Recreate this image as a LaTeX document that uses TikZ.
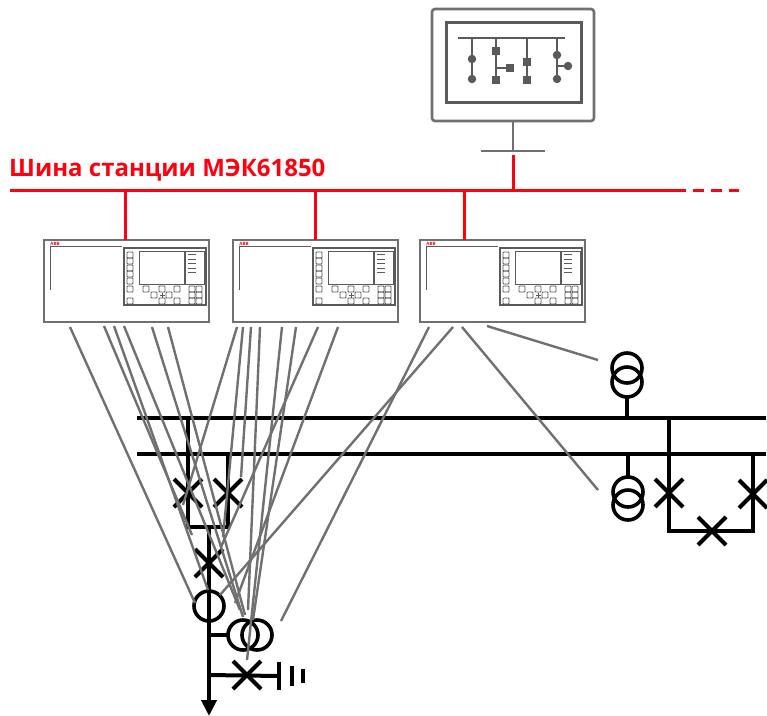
\documentclass[tikz,border=0pt]{standalone}
\usepackage{fontspec}
\newfontfamily\titlefont{Open Sans}
\usepackage{xcolor}
\usetikzlibrary{positioning,calc,shapes.misc,arrows.meta}
\definecolor{busred}{HTML}{FF000F}
\definecolor{wiregray}{HTML}{707070}
\definecolor{facegray}{HTML}{5A5A5A}

\begin{document}
\begin{tikzpicture}[x=1pt, y=-1pt, >=stealth]
        % Style definitions
        \tikzset{
            ied/.style={draw=wiregray, fill=white, rectangle, minimum width=165pt, minimum height=82pt, line width=2.5pt, outer sep=0pt, inner sep=0pt},
            redbus/.style={draw=busred, line width=3pt},
            wire/.style={draw=wiregray, line width=2.4pt},
            hv/.style={draw=black, line width=4pt},
            breaker/.style={cross out, draw=black, line width=4pt, minimum size=28pt, inner sep=0pt, outer sep=0pt},
            winding/.style={circle, draw=black, line width=3.6pt, minimum size=30pt, inner sep=0pt, outer sep=0pt},
            scada/.style={draw=facegray, line width=2pt},
            dotnode/.style={circle, fill=facegray, minimum size=8.5pt, inner sep=0pt},
            sqnode/.style={rectangle, fill=facegray, minimum size=7.5pt, inner sep=0pt},
            key/.style={draw=facegray, line width=0.8pt, rounded corners=0.8pt}
        }
        \useasboundingbox (0,0) rectangle (767,715);

        % Monitor
        \draw [draw=wiregray, line width=2.6pt, rounded corners=3pt] (432,9) rectangle (594,121);
        \draw [draw=facegray, line width=3pt] (446,22) rectangle (581,102);
        \coordinate (monitor) at (513,121);
        \coordinate (stand) at (513,151);
        \coordinate (standl) at (481,151);
        \coordinate (standr) at (545,151);
        \draw [wire] (monitor) -- (stand);
        \draw [wire] (standl) -- (standr);

        % Mimic on the screen
        \coordinate (mimicl) at (458,38);
        \coordinate (mimicr) at (565,38);
        \draw [scada] (mimicl) -- (mimicr);
        \node [dotnode] (a1) at (472,59) {};
        \node [dotnode] (a2) at (472,79) {};
        \node [sqnode] (b1) at (496,51) {};
        \node [sqnode] (b2) at (496,80) {};
        \node [sqnode] (b3) at (510,68) {};
        \node [sqnode] (c1) at (527,62) {};
        \node [sqnode] (c2) at (527,80) {};
        \node [dotnode] (e1) at (557,55) {};
        \node [dotnode] (e2) at (557,79) {};
        \node [dotnode] (e3) at (568,66) {};
        \foreach \lower in {a2,b2,c2,e2}
            \draw [scada] (\lower |- mimicl) -- (\lower);
        \draw [scada] (b3) -- (b3 -| b2);
        \draw [scada] (e3) -- (e3 -| e2);

        % Station bus
        \node [anchor=base west, inner sep=0pt, text=busred, font=\titlefont\fontsize{24}{26}\selectfont\bfseries] (title) at (9,176.5) {Шина станции МЭК61850};
        \coordinate (busl) at (10,190);
        \coordinate (busr) at (675,190);
        \coordinate (busend) at (739,190);
        \draw [redbus] (busl) -- (busr);
        \draw [redbus, dash pattern=on 10.5pt off 7.5pt] (busr) -- (busend);
        \coordinate (busmon) at (513,155);

        % IEDs
        \node [ied, anchor=north west] (ied1) at (44,240) {};
        \node [ied, right=24pt of ied1] (ied2) {};
        \node [ied, right=22pt of ied2] (ied3) {};
        \draw [redbus] (busmon) -- (busmon |- busl);
        \foreach \dev/\x in {ied1/125,ied2/315,ied3/464}{
            \coordinate (\dev drop) at (\x,190);
            \draw [redbus] (\dev drop) -- (\dev drop |- \dev.north);
        }

        % Front panels
        \foreach \dev in {ied1,ied2,ied3}{
            \begin{scope}[shift={(\dev.north west)}]
                \node [text=busred, inner sep=0pt, font=\titlefont\fontsize{4.5}{5}\selectfont\bfseries] (\dev abb) at (11,3.5) {ABB};
                \draw [draw=facegray, line width=0.9pt] (6,50) |- (78,6.5);
                \draw [draw=facegray, line width=1.1pt] (80,8) rectangle (162,65);
                \draw [draw=facegray, line width=1pt] (95,11) rectangle (140,44);
                \draw [draw=facegray, line width=1pt] (141,11) rectangle (160,44);
                \foreach \y in {14,19,23,28,32}
                    \draw [draw=facegray, line width=0.7pt] (144,\y) -- (152,\y);
                \foreach \x/\y in {86/15,86/21,86/28,86/34,86/41,86/49,86/61,102/49,118/49,133/49,110/55,125/55,118/61,133/61,148/49,155/49,148/55,155/55,148/61,155/61}
                    \draw [key] (\x-3,\y-3) rectangle (\x+3,\y+3);
                \draw [draw=facegray, line width=0.7pt] (115.5,55) -- (120.5,55) (118,52.5) -- (118,57.5);
            \end{scope}
        }

        % Busbars
        \coordinate (bus1l) at (137,418);
        \coordinate (bus1r) at (766,418);
        \coordinate (bus2l) at (137,454);
        \coordinate (bus2r) at (766,454);
        \draw [hv] (bus1l) -- (bus1r);
        \draw [hv] (bus2l) -- (bus2r);

        % Feeder bay
        \node [breaker] (q1) at (188,493) {};
        \node [breaker] (q2) at (228,493) {};
        \node [breaker] (q3) at (209,563) {};
        \node [winding] (ct) at (209,606) {};
        \node [winding] (vt1) at (243,635) {};
        \node [winding] (vt2) at (257,635) {};
        \node [breaker] (q4) at (247,675) {};
        \coordinate (join) at (209,527);
        \coordinate (tip) at (209,716);
        \draw [hv] (q1 |- bus1l) -- (q1 |- join) -- (q2 |- join) -- (q2 |- bus2l);
        \draw [hv, -{Triangle[length=16pt, width=15pt]}] (join) -- (tip);
        \draw [hv] (tip |- vt1) -- (vt1);

        % Earth switch and earth bars
        \coordinate (earth1) at (279,676);
        \draw [hv] (tip |- q4) -- (earth1);
        \foreach \x/\h in {279/14,292/10,303/7}{
            \coordinate (bar\x) at (\x,676);
            \draw [hv] ($(bar\x)+(0,-\h)$) -- ($(bar\x)+(0,\h)$);
        }

        % Transformers on the right
        \node [winding] (t1) at (627,368) {};
        \node [winding] (t2) at (627,382) {};
        \draw [hv] (t2) -- (t2 |- bus1l);
        \node [winding] (t3) at (628,492) {};
        \node [winding] (t4) at (628,505) {};
        \draw [hv] (t3) -- (t3 |- bus2l);

        % Bus coupler
        \node [breaker] (q5) at (669,493) {};
        \node [breaker] (q6) at (753,494) {};
        \node [breaker] (q7) at (712,531) {};
        \draw [hv] (q5 |- bus1l) -- (q5 |- q7) -- (q6 |- q7) -- (q6 |- bus2l);

        % Signal wires
        \foreach \n/\xa/\ya/\xb/\yb in {
            a/70/327/195/603, b/104/326/192/535, c/114/326/208/590, d/124/326/240/610,
            f/152/327/243/617, g/168/327/245/615,
            h/237/327/183/505, i/243/327/223/537, j/251/327/241/477, k/260/327/248/610,
            l/282/327/247/660, m/296/327/253/620, n/318/327/221/547, o/338/327/235/603,
            p/429/327/281/621, q/453/327/220/595, r/462/327/598/490, s/487/326/598/360}{
            \coordinate (from\n) at (\xa,\ya);
            \coordinate (to\n) at (\xb,\yb);
            \draw [wire] (from\n) -- (to\n);
        }
    \end{tikzpicture}
\end{document}
